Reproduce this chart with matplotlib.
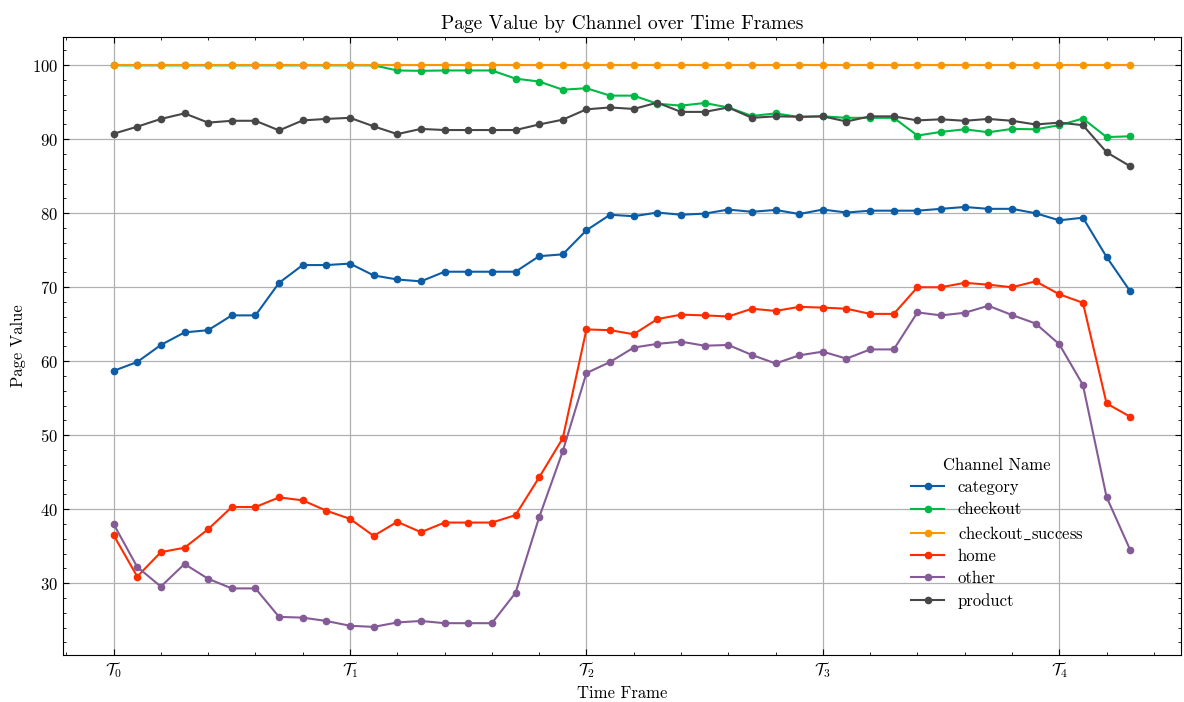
import matplotlib
matplotlib.use("Agg")
import matplotlib.pyplot as plt
from matplotlib.ticker import MultipleLocator

time_index = list(range(44))
tick_positions = [0, 10, 20, 30, 40]
tick_labels = [r"$\mathcal{T}_{0}$", r"$\mathcal{T}_{1}$", r"$\mathcal{T}_{2}$",
               r"$\mathcal{T}_{3}$", r"$\mathcal{T}_{4}$"]

channels = ["category", "checkout", "checkout_success", "home", "other", "product"]

category = [58.7, 59.9, 62.2, 63.9, 64.2, 66.2, 66.2, 70.6, 73.0, 73.0,
            73.2, 71.6, 71.05, 70.8, 72.1, 72.1, 72.1, 72.1, 74.2, 74.45,
            77.7, 79.8, 79.6, 80.1, 79.8, 79.95, 80.5, 80.2, 80.45, 79.9,
            80.5, 80.1, 80.35, 80.35, 80.35, 80.6, 80.85, 80.6, 80.6, 80.0,
            79.05, 79.4, 74.1, 69.45]
checkout = [100, 100, 100, 100, 100, 100, 100, 100, 100, 100,
            100, 100, 99.3, 99.25, 99.3, 99.3, 99.3, 98.2, 97.8, 96.7,
            96.9, 95.9, 95.9, 94.8, 94.55, 94.9, 94.3, 93.15, 93.5, 93.0,
            93.1, 92.9, 92.9, 92.9, 90.5, 91.0, 91.35, 90.95, 91.4, 91.35,
            91.9, 92.8, 90.3, 90.4]
checkout_success = [100] * 44
home = [36.5, 30.9, 34.2, 34.8, 37.3, 40.3, 40.3, 41.6, 41.2, 39.8,
        38.7, 36.4, 38.3, 36.9, 38.2, 38.2, 38.2, 39.2, 44.3, 49.6,
        64.3, 64.2, 63.65, 65.7, 66.3, 66.2, 66.05, 67.1, 66.8, 67.35,
        67.25, 67.1, 66.4, 66.4, 70.0, 70.0, 70.6, 70.35, 70.0, 70.8,
        69.05, 67.9, 54.3, 52.5]
other = [38.0, 32.2, 29.55, 32.6, 30.6, 29.3, 29.3, 25.45, 25.35, 24.9,
         24.25, 24.1, 24.7, 24.9, 24.6, 24.6, 24.6, 28.7, 38.9, 47.85,
         58.4, 59.9, 61.85, 62.35, 62.65, 62.1, 62.2, 60.85, 59.7, 60.8,
         61.3, 60.35, 61.6, 61.6, 66.6, 66.2, 66.55, 67.5, 66.25, 65.1,
         62.3, 56.8, 41.65, 34.5]
product = [90.75, 91.7, 92.75, 93.5, 92.25, 92.5, 92.5, 91.2, 92.55, 92.75,
           92.9, 91.75, 90.7, 91.4, 91.25, 91.25, 91.25, 91.25, 92.0, 92.65,
           94.05, 94.3, 94.1, 94.95, 93.7, 93.7, 94.3, 92.9, 93.1, 93.05,
           93.1, 92.4, 93.1, 93.1, 92.55, 92.7, 92.5, 92.75, 92.5, 92.0,
           92.25, 91.9, 88.25, 86.35]

series = [category, checkout, checkout_success, home, other, product]
colors = ["#0C5DA5", "#00B945", "#FF9500", "#FF2C00", "#845B97", "#474747"]
legend_labels = ["category", "checkout", r"checkout$\_$success", "home", "other", "product"]

plt.rcParams.update({
    "font.family": ["cmr10", "DejaVu Serif"],
    "mathtext.fontset": "cm",
    "axes.formatter.use_mathtext": True,
    "font.size": 12,
    "xtick.direction": "in",
    "ytick.direction": "in",
    "xtick.top": True,
    "ytick.right": True,
    "xtick.major.size": 4,
    "ytick.major.size": 4,
    "xtick.minor.size": 2,
    "ytick.minor.size": 2,
    "axes.linewidth": 0.8,
})

fig, ax = plt.subplots(figsize=(11.84, 7.02), dpi=100)
fig.subplots_adjust(left=0.053, right=0.9975, top=0.947, bottom=0.067)

for vals, col, lab in zip(series, colors, legend_labels):
    ax.plot(time_index, vals, color=col, marker="o", markersize=4.5,
            linewidth=1.5, label=lab)

ax.set_xticks(tick_positions)
ax.set_xticklabels(tick_labels, fontsize=12)
ax.xaxis.set_minor_locator(MultipleLocator(2))
ax.yaxis.set_major_locator(MultipleLocator(10))
ax.yaxis.set_minor_locator(MultipleLocator(2))
ax.grid(True, which="major", color="#b0b0b0", linewidth=0.9)
ax.set_axisbelow(True)

ax.set_title("Page Value by Channel over Time Frames", fontsize=14)
ax.set_xlabel("Time Frame", fontsize=12)
ax.set_ylabel("Page Value", fontsize=12)

leg = ax.legend(title="Channel Name", frameon=False, loc="center left",
                bbox_to_anchor=(0.745, 0.197), fontsize=12, title_fontsize=12,
                labelspacing=0.42)

fig.savefig("out.png", dpi=100)
